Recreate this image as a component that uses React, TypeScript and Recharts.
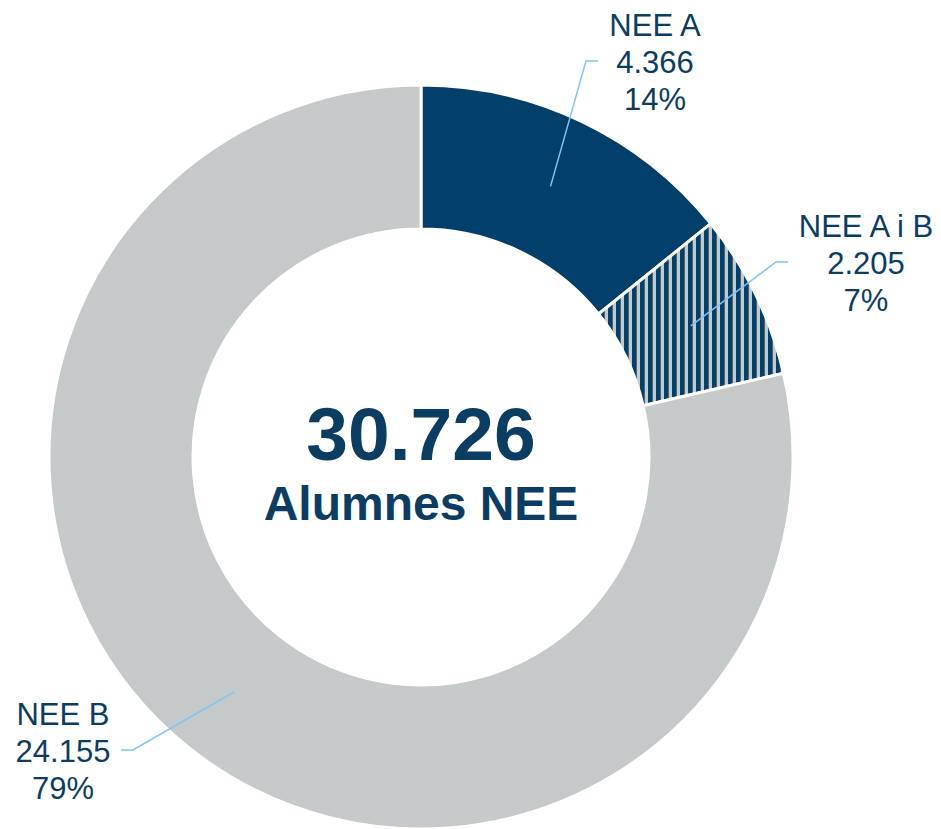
import { PieChart, Pie, Cell } from "recharts"

const categories = ["NEE A", "NEE A i B", "NEE B"]
const values = [4366, 2205, 24155]
const centerCaption = "Alumnes NEE"

const NAVY = "#023F6A"
const GREY = "#C5C9C9"
const TEXT = "#0B3D63"
const LEADER = "#7DC4F7"
const FONT = "'Liberation Sans', Arial, sans-serif"

const FILLS = [NAVY, "url(#stripes)", GREY]

// where each leader line bends, relative to the pie centre, and which side the text sits on
const LABEL_LAYOUT = [
  { dx: 165, dy: -396, side: 1, textDx: 57 },
  { dx: 355, dy: -195, side: 1, textDx: 78 },
  { dx: -288, dy: 293, side: -1, textDx: -58 },
]

const fmt = (n: number) => n.toString().replace(/\B(?=(\d{3})+(?!\d))/g, ".")

const data = categories.map((name, i) => ({ name, value: values[i] }))
const total = values.reduce((a, b) => a + b, 0)

const RAD = Math.PI / 180

function renderLabel(props: any) {
  const { cx, cy, midAngle, innerRadius, outerRadius, index, value, percent } = props
  const lay = LABEL_LAYOUT[index]
  const r = (innerRadius + outerRadius) / 2
  const sx = cx + r * Math.cos(-midAngle * RAD)
  const sy = cy + r * Math.sin(-midAngle * RAD)
  const ex = cx + lay.dx
  const ey = cy + lay.dy
  const hx = ex + lay.side * 12
  const tx = hx + lay.textDx
  const lines = [categories[index], fmt(value), `${Math.round(percent * 100)}%`]
  return (
    <g key={`lbl-${index}`}>
      <polyline
        points={`${sx},${sy} ${ex},${ey} ${hx},${ey}`}
        fill="none"
        stroke={LEADER}
        strokeWidth={1.5}
      />
      {lines.map((t, k) => (
        <text
          key={k}
          x={tx}
          y={ey + 12 + (k - 1) * 37}
          textAnchor="middle"
          fill={TEXT}
          fontSize={31}
          fontFamily={FONT}
        >
          {t}
        </text>
      ))}
      {index === 0 && (
        <g>
          <text x={cx} y={cy + 3} textAnchor="middle" fill={TEXT} fontSize={75} fontWeight="bold" fontFamily={FONT}>
            {fmt(total)}
          </text>
          <text x={cx} y={cy + 63} textAnchor="middle" fill={TEXT} fontSize={48} fontWeight="bold" fontFamily={FONT}>
            {centerCaption}
          </text>
        </g>
      )}
    </g>
  )
}

export default function App() {
  return (
    <div style={{ position: "absolute", left: 0, top: 0, width: 941, height: 829, background: "#fff" }}>
      <PieChart width={941} height={829} margin={{ top: 0, right: 0, bottom: 0, left: 0 }}>
        <defs>
          <pattern id="stripes" patternUnits="userSpaceOnUse" width={8} height={8}>
            <rect x={0} y={0} width={8} height={8} fill={GREY} />
            <rect x={0} y={0} width={4.7} height={8} fill={NAVY} />
          </pattern>
        </defs>
        <Pie
          data={data}
          dataKey="value"
          nameKey="name"
          cx={421}
          cy={457}
          innerRadius={228}
          outerRadius={372}
          startAngle={90}
          endAngle={-270}
          stroke="#fff"
          strokeWidth={3}
          label={renderLabel}
          labelLine={false}
          isAnimationActive={false}
        >
          {data.map((d, i) => (
            <Cell key={d.name} fill={FILLS[i]} />
          ))}
        </Pie>
      </PieChart>
    </div>
  )
}
